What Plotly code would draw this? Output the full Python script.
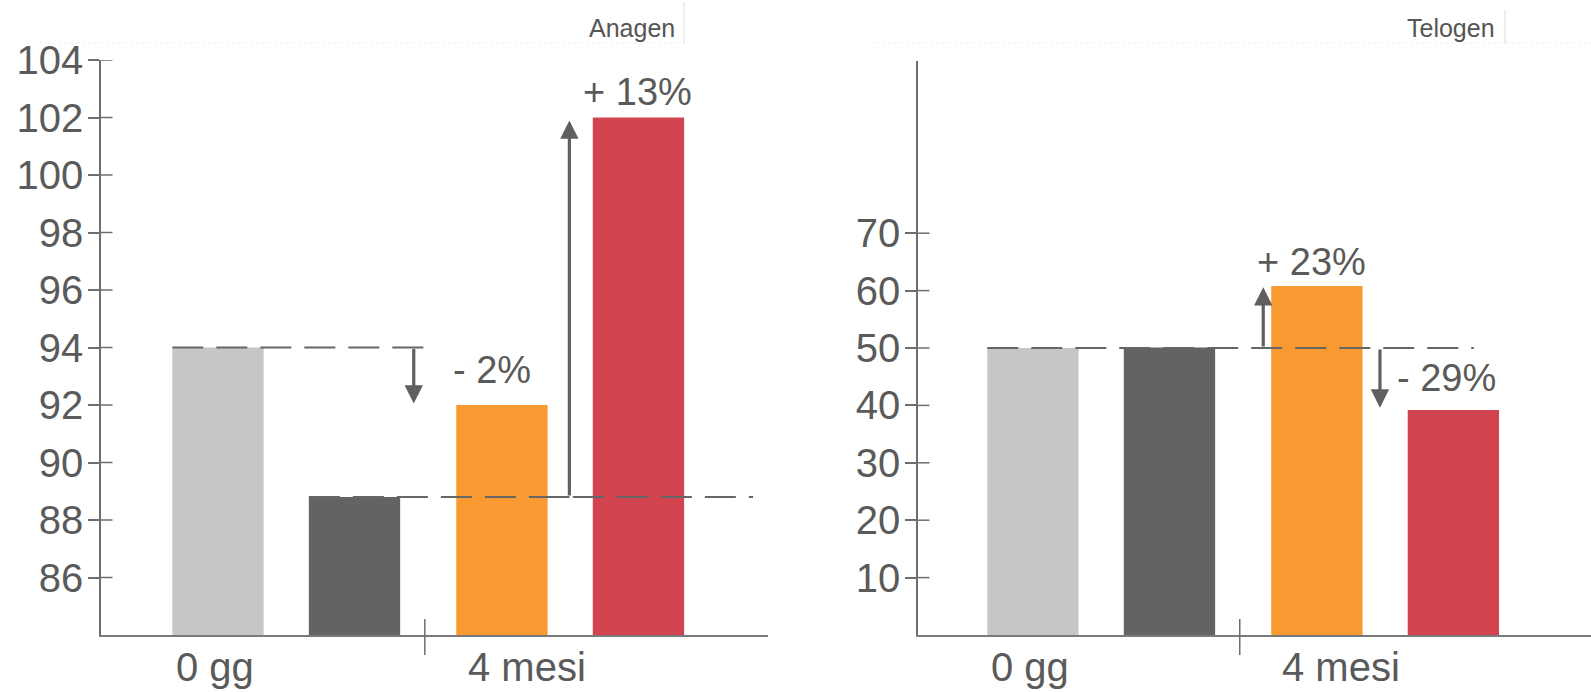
import plotly.graph_objects as go

# ---------------- data ----------------
CATEGORIES = ["0 gg", "4 mesi"]
BAR_COLORS = ["#c6c6c6", "#636363", "#f89a31", "#d2444f"]
ANAGEN = [94, 88.8, 92, 102]
TELOGEN = [50, 50.1, 60.8, 39.2]
ANAGEN_TICKS = [86, 88, 90, 92, 94, 96, 98, 100, 102, 104]
TELOGEN_TICKS = [10, 20, 30, 40, 50, 60, 70]
ANAGEN_CHANGES = ["- 2%", "+ 13%"]
TELOGEN_CHANGES = ["+ 23%", "- 29%"]
TITLES = ["Anagen", "Telogen"]

# ---------------- layout constants ----------------
W, H = 1591, 692
POS = [0, 1, 2.08, 3.08]          # bar slots on the numeric x axis
CAT_POS = [-0.02, 2.26]           # category label positions
GROUP_DIV = 1.515                 # tick between the two groups
BAR_W = 0.669
FONT = "Liberation Sans, Arial, sans-serif"
TXT = "#5a5a5a"
AX = "#6e6e6e"
ARW = "#5f5f5f"

def px_y(p):  # pixel-from-top -> paper y
    return 1 - p / H

def px_x(p):
    return p / W

fig = go.Figure()
fig.add_trace(go.Bar(x=POS, y=ANAGEN, marker=dict(color=BAR_COLORS, line=dict(width=0)),
                     width=BAR_W, xaxis="x", yaxis="y", hoverinfo="skip"))
fig.add_trace(go.Bar(x=POS, y=TELOGEN, marker=dict(color=BAR_COLORS, line=dict(width=0)),
                     width=BAR_W, xaxis="x2", yaxis="y2", hoverinfo="skip"))

ydom = [px_y(635), px_y(60)]
ydom2 = [px_y(635), px_y(61)]
common_x = dict(showgrid=False, zeroline=False, showline=True, linecolor="#7a7a7a",
                linewidth=2, ticks="", showticklabels=False, fixedrange=True, automargin=False)
common_y = dict(showgrid=False, zeroline=False, showline=True, linecolor=AX, linewidth=1.5,
                ticks="outside", ticklen=11, tickwidth=1.5, tickcolor=AX, automargin=False,
                ticklabelstandoff=-3,
                tickfont=dict(family=FONT, size=40, color=TXT), fixedrange=True)

fig.update_layout(
    width=W, height=H, margin=dict(l=0, r=0, t=0, b=0, pad=0, autoexpand=False),
    paper_bgcolor="white", plot_bgcolor="white", showlegend=False,
    font=dict(family=FONT, color=TXT),
    xaxis=dict(domain=[px_x(101), px_x(768)], range=[-0.857, 4.029], anchor="y", **common_x),
    yaxis=dict(domain=ydom, range=[84, 104], tickvals=ANAGEN_TICKS, anchor="x", **common_y),
    xaxis2=dict(domain=[px_x(918), 1.0], range=[-0.842, 4.088], anchor="y2", **common_x),
    yaxis2=dict(domain=ydom2, range=[0, 100], tickvals=TELOGEN_TICKS, anchor="x2", **common_y),
)

shapes = []
# inner halves of y ticks
for v in ANAGEN_TICKS:
    shapes.append(dict(type="line", xref="paper", yref="y", x0=px_x(101), x1=px_x(112.5),
                       y0=v, y1=v, line=dict(color=AX, width=1.5)))
for v in TELOGEN_TICKS:
    shapes.append(dict(type="line", xref="paper", yref="y2", x0=px_x(918), x1=px_x(929.5),
                       y0=v, y1=v, line=dict(color=AX, width=1.5)))
# group dividers on x axes
for xr in ["x", "x2"]:
    shapes.append(dict(type="line", xref=xr, yref="paper", x0=GROUP_DIV, x1=GROUP_DIV,
                       y0=px_y(619), y1=px_y(655), line=dict(color=AX, width=1.5)))
# dashed reference lines
dash = "31px,13px"
half = BAR_W / 2
shapes.append(dict(type="line", xref="x", yref="y", x0=POS[0] - half, x1=1.58,
                   y0=ANAGEN[0], y1=ANAGEN[0], line=dict(color="#666", width=2, dash=dash)))
shapes.append(dict(type="line", xref="x", yref="y", x0=POS[1] - half, x1=3.92,
                   y0=ANAGEN[1], y1=ANAGEN[1], line=dict(color="#666", width=2, dash=dash)))
shapes.append(dict(type="line", xref="x", yref="y", x0=2.42, x1=2.574,
                   y0=ANAGEN[1], y1=ANAGEN[1], line=dict(color="#666", width=2)))
shapes.append(dict(type="line", xref="x2", yref="y2", x0=POS[0] - half, x1=3.23,
                   y0=TELOGEN[0], y1=TELOGEN[0], line=dict(color="#666", width=2, dash=dash)))
# faint header artefacts
shapes.append(dict(type="line", xref="paper", yref="paper", x0=px_x(40), x1=px_x(684),
                   y0=px_y(43), y1=px_y(43), line=dict(color="#f0f0f0", width=1, dash="dot")))
shapes.append(dict(type="line", xref="paper", yref="paper", x0=px_x(870), x1=1,
                   y0=px_y(43), y1=px_y(43), line=dict(color="#f0f0f0", width=1, dash="dot")))
shapes.append(dict(type="line", xref="paper", yref="paper", x0=px_x(684), x1=px_x(684),
                   y0=px_y(2), y1=px_y(44), line=dict(color="#dddddd", width=1)))
shapes.append(dict(type="line", xref="paper", yref="paper", x0=px_x(1505), x1=px_x(1505),
                   y0=px_y(10), y1=px_y(44), line=dict(color="#dddddd", width=1)))
fig.update_layout(shapes=shapes)

ann = []
def arrow(xr, yr, x, y0, y1):
    return dict(xref=xr, yref=yr, axref=xr, ayref=yr, x=x, y=y1, ax=x, ay=y0, text="",
                showarrow=True, arrowhead=2, arrowsize=1.15, arrowwidth=3.2,
                arrowcolor=ARW, standoff=0, startstandoff=0)

ann.append(arrow("x", "y", 1.434, ANAGEN[0], 92.05))
ann.append(arrow("x", "y", 2.574, ANAGEN[1], 101.9))
ann.append(arrow("x2", "y2", 1.687, TELOGEN[0], 60.6))
ann.append(arrow("x2", "y2", 2.542, TELOGEN[0], 39.6))

pfont = dict(family=FONT, size=38, color=TXT)
ann.append(dict(xref="x", yref="y", x=2.007, y=93.22, text=ANAGEN_CHANGES[0],
                showarrow=False, font=pfont, xanchor="center", yanchor="middle"))
ann.append(dict(xref="x", yref="y", x=3.07, y=102.9, text=ANAGEN_CHANGES[1],
                showarrow=False, font=pfont, xanchor="center", yanchor="middle"))
ann.append(dict(xref="x2", yref="y2", x=2.037, y=65.0, text=TELOGEN_CHANGES[0],
                showarrow=False, font=pfont, xanchor="center", yanchor="middle"))
ann.append(dict(xref="x2", yref="y2", x=3.033, y=44.8, text=TELOGEN_CHANGES[1],
                showarrow=False, font=pfont, xanchor="center", yanchor="middle"))

cfont = dict(family=FONT, size=40, color=TXT)
for xr in ["x", "x2"]:
    for c, p in zip(CATEGORIES, CAT_POS):
        ann.append(dict(xref=xr, yref="paper", x=p, y=px_y(667), text=c, showarrow=False,
                        font=cfont, xanchor="center", yanchor="middle"))

tfont = dict(family=FONT, size=25, color="#555")
ann.append(dict(xref="paper", yref="paper", x=px_x(632), y=px_y(28), text=TITLES[0],
                showarrow=False, font=tfont, xanchor="center", yanchor="middle"))
ann.append(dict(xref="paper", yref="paper", x=px_x(1451), y=px_y(28), text=TITLES[1],
                showarrow=False, font=tfont, xanchor="center", yanchor="middle"))
fig.update_layout(annotations=ann)

fig.write_html("out.html", config={"displayModeBar": False},
               post_script="document.body.style.margin='0';document.body.style.overflow='hidden';")
